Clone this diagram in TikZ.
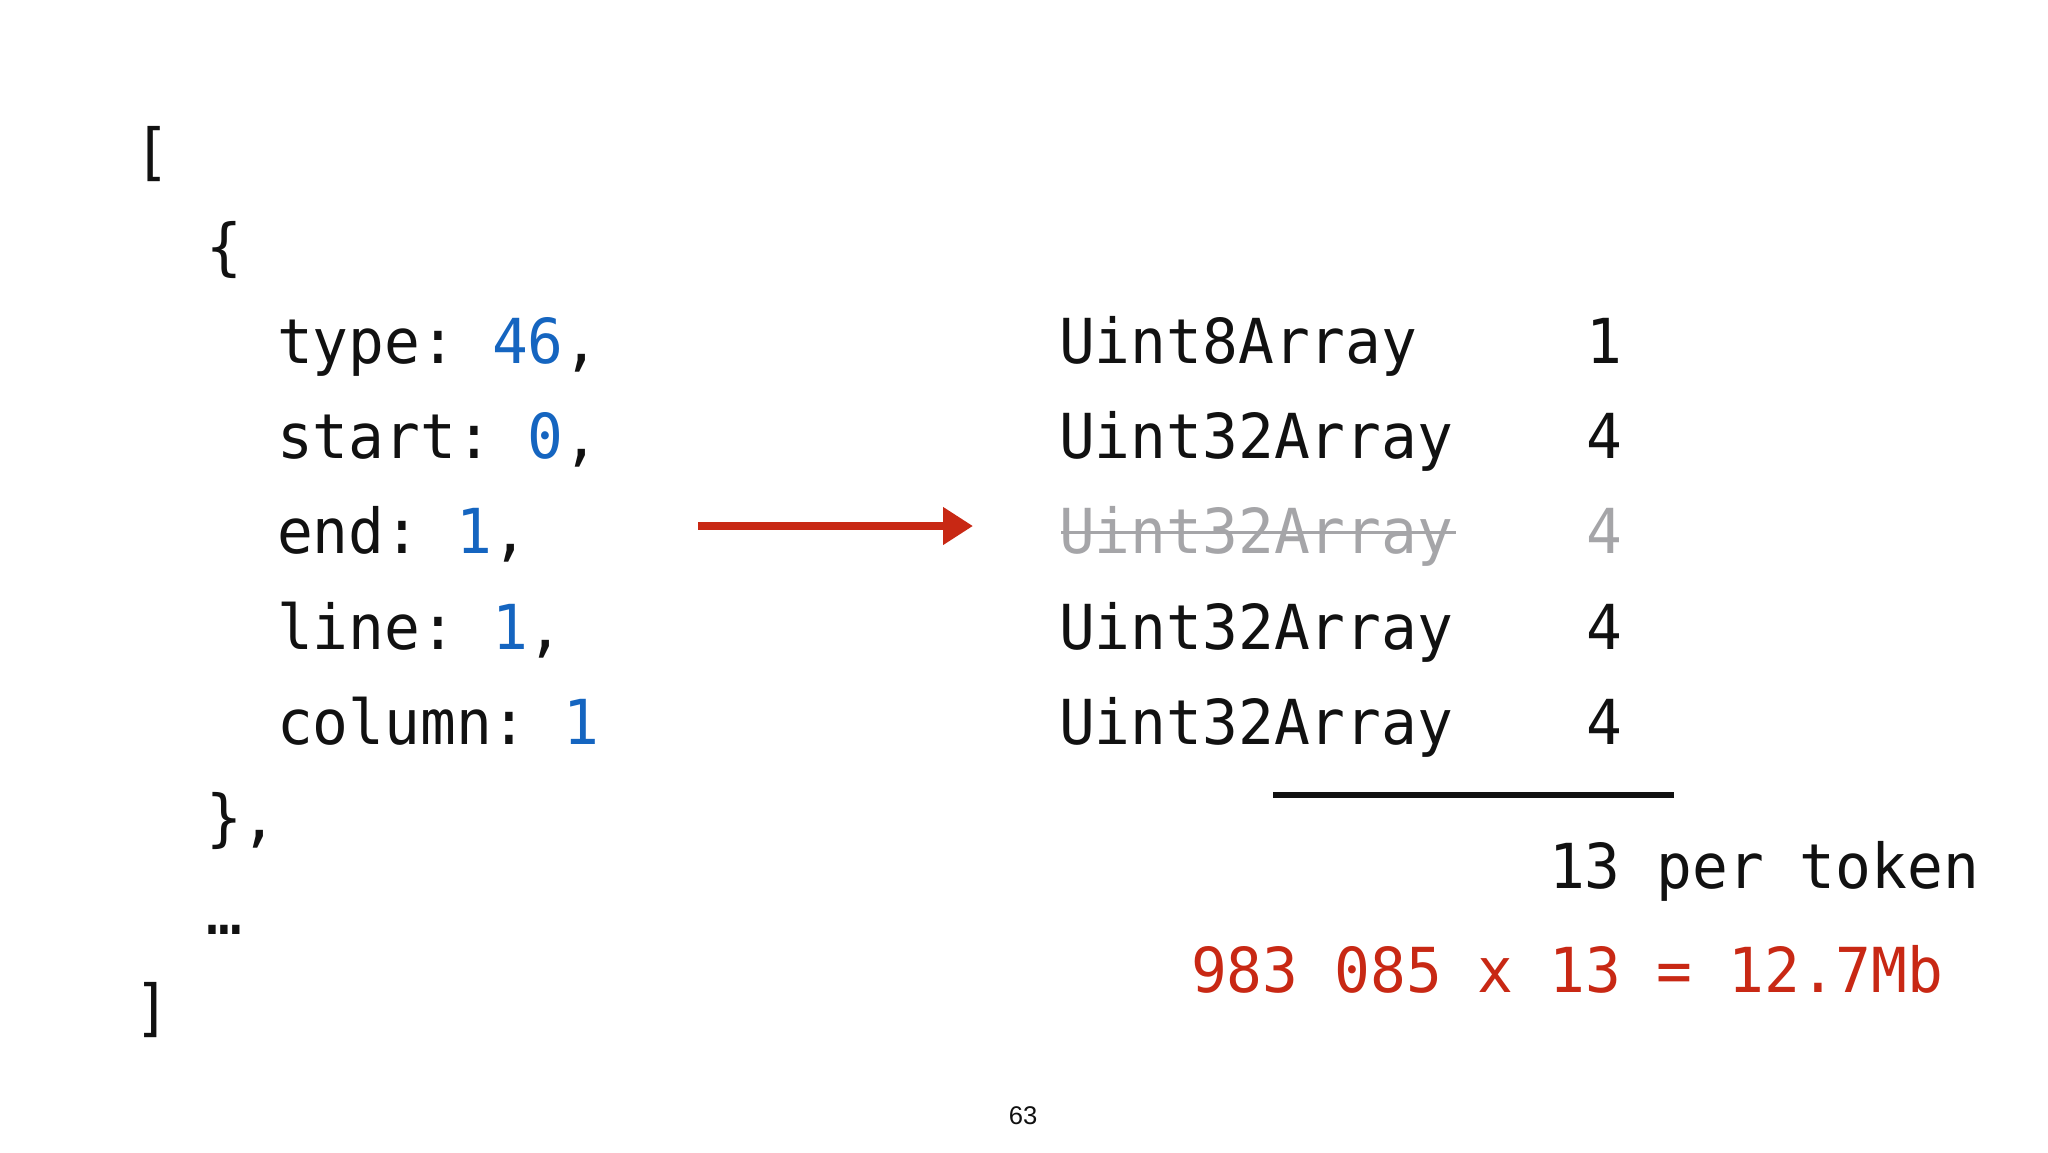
\documentclass[tikz,border=0pt]{standalone}
\usepackage{fontspec}
\newfontfamily\codefont[FakeStretch=0.96]{DejaVu Sans Mono}
\newfontfamily\pagefont{Liberation Sans}
\usetikzlibrary{arrows.meta}
\definecolor{valblue}{RGB}{21,101,192}
\definecolor{accred}{RGB}{200,40,20}
\definecolor{strikegray}{RGB}{165,165,168}
\definecolor{inkblack}{RGB}{17,17,17}
\begin{document}
\begin{tikzpicture}[x=1pt,y=-1pt,
  code/.style={anchor=base west, inner sep=0pt, outer sep=0pt, text=inkblack,
    font=\codefont\fontsize{62}{74}\selectfont\frenchspacing},
  codenum/.style={code, anchor=base},
  redarrow/.style={draw=accred, line width=8pt, -{Triangle[length=30pt,width=36pt]}},
  strikeline/.style={draw=strikegray, line width=3pt},
  sumline/.style={draw=inkblack, line width=6pt}]
\useasboundingbox (0,0) rectangle (2048,1152);
\fill[white] (0,0) rectangle (2048,1152);

% left: object literal
\node[code] (lb) at (134,173) {[};
\node[code] (ob) at (206,268) {\{};
\node[code] (ktype) at (277,363) {type: \textcolor{valblue}{46},};
\node[code] (kstart) at (277,458) {start: \textcolor{valblue}{0},};
\node[code] (kend) at (277,553) {end: \textcolor{valblue}{1},};
\node[code] (kline) at (277,649) {line: \textcolor{valblue}{1},};
\node[code] (kcol) at (277,744) {column: \textcolor{valblue}{1}};
\node[code] (cb) at (206,839) {\},};
\node[code] (ell) at (206,934) {…};
\node[code] (rb) at (134,1029) {]};

% arrow
\coordinate (arrS) at (698,526);
\coordinate (arrE) at (973,526);
\draw[redarrow] (arrS) -- (arrE);

% right: typed arrays
\node[code] (t8) at (1059,363) {Uint8Array};
\node[code] (t32a) at (1059,458) {Uint32Array};
\node[code, text=strikegray] (t32s) at (1059,553) {Uint32Array};
\node[code] (t32b) at (1059,649) {Uint32Array};
\node[code] (t32c) at (1059,744) {Uint32Array};

\node[codenum] (n1) at (1604,363) {1};
\node[codenum] (n2) at (1604,458) {4};
\node[codenum, text=strikegray] (n3) at (1604,553) {4};
\node[codenum] (n4) at (1604,649) {4};
\node[codenum] (n5) at (1604,744) {4};

\coordinate (sS) at (1061,532);
\coordinate (sE) at (1456,532);
\draw[strikeline] (sS) -- (sE);

\coordinate (uS) at (1273,795);
\coordinate (uE) at (1674,795);
\draw[sumline] (uS) -- (uE);

\node[code] (per) at (1549,888) {13 per token};
\node[code, text=accred] (total) at (1191,992) {983 085 x 13 = 12.7Mb};

\node[anchor=base, inner sep=0pt, text=inkblack, font=\pagefont\fontsize{25.6}{30}\selectfont] (pg) at (1023,1124) {63};
\end{tikzpicture}
\end{document}
